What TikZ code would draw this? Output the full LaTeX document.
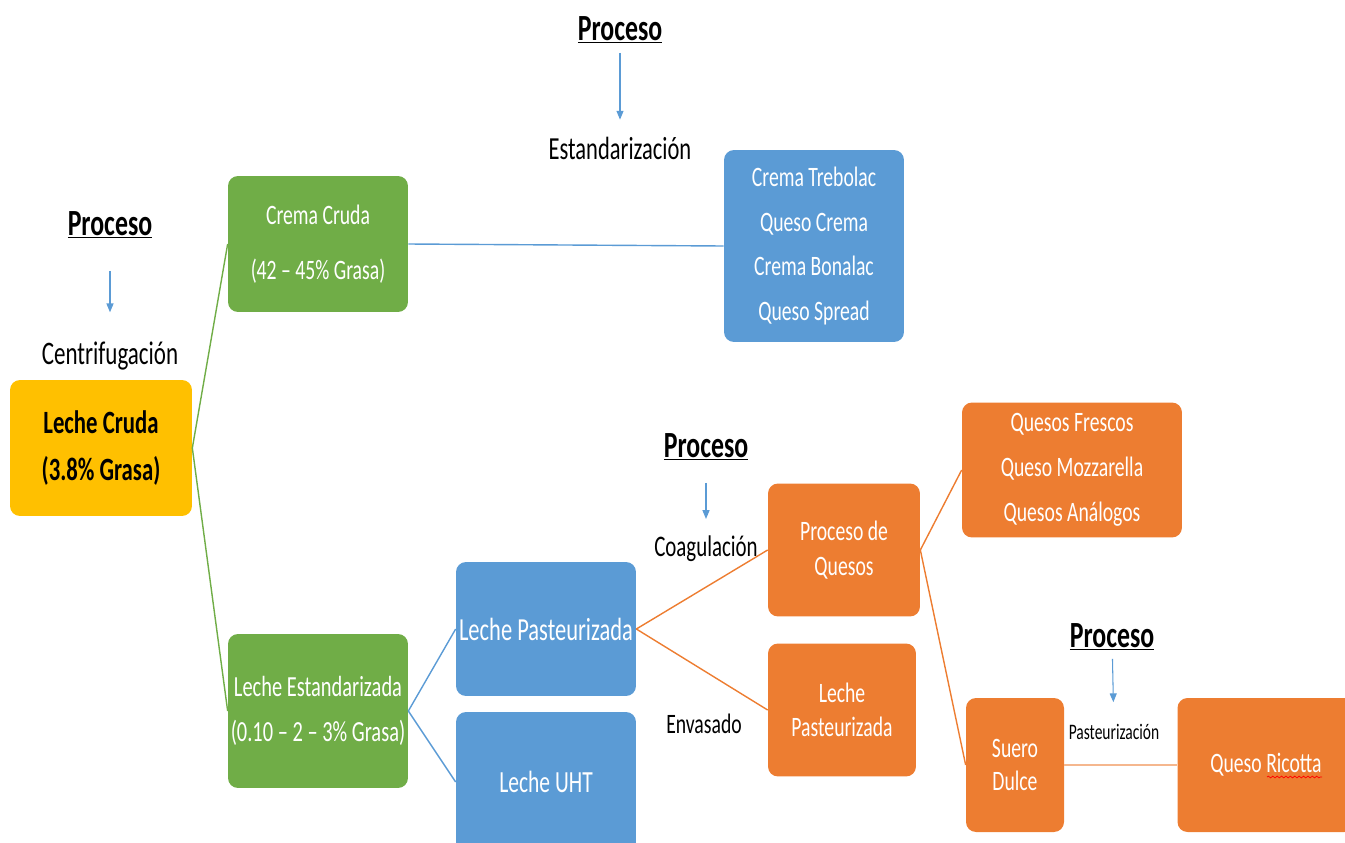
\documentclass[tikz,border=0pt]{standalone}
\usepackage{fontspec}
\setmainfont{Carlito}[FakeStretch=0.7]
\usepackage{tikz}
\usetikzlibrary{arrows.meta,decorations.pathmorphing}
\definecolor{verde}{HTML}{70AD47}
\definecolor{amarillo}{HTML}{FFC000}
\definecolor{azul}{HTML}{5B9BD5}
\definecolor{naranja}{HTML}{ED7D31}
\begin{document}
\begin{tikzpicture}[x=0.02cm, y=-0.02cm,
		caja/.style 2 args={rectangle, rounded corners=0.2cm, text=white, align=center, inner sep=0pt, minimum width=#1, minimum height=#2},
		etiqueta/.style={align=center, inner sep=1pt},
		linea/.style={line width=0.8pt},
		flecha/.style={draw=azul, line width=0.6pt, -{Triangle[width=4pt,length=5pt]}}]
				\useasboundingbox (0,0) rectangle (1345,842);
				
				\node[caja={3.64cm}{2.72cm}, fill=amarillo, text=black, font=\fontsize{18.5}{26.5}\selectfont\bfseries] (lc) at (101,448){Leche Cruda\\(3.8\% Grasa)};
				\node[caja={3.6cm}{2.72cm}, fill=verde, font=\fontsize{16}{31}\selectfont] (cc) at (318,244){Crema Cruda\\(42 -- 45\% Grasa)};
				\node[caja={3.6cm}{3.08cm}, fill=verde, font=\fontsize{16.6}{25.5}\selectfont] (le) at (318,711){Leche Estandarizada\\(0.10 -- 2 -- 3\% Grasa)};
				\node[caja={3.6cm}{3.84cm}, fill=azul, font=\fontsize{16}{25.5}\selectfont] (cremas) at (814,246){Crema Trebolac\\Queso Crema\\Crema Bonalac\\Queso Spread};
				\node[caja={3.6cm}{2.68cm}, fill=azul, font=\fontsize{18.3}{20}\selectfont] (lp) at (546,629){Leche Pasteurizada};
				\node[caja={3.6cm}{2.8cm}, fill=azul, font=\fontsize{17.5}{20}\selectfont] (uht) at (546,782){Leche UHT};
				\node[caja={3.04cm}{2.66cm}, fill=naranja, font=\fontsize{16}{19.5}\selectfont] (pq) at (844,550){Proceso de\\Quesos};
				\node[caja={2.96cm}{2.66cm}, fill=naranja, font=\fontsize{16}{19.5}\selectfont] (lp2) at (842,710){Leche\\Pasteurizada};
				\node[caja={4.4cm}{2.7cm}, fill=naranja, font=\fontsize{16}{25.5}\selectfont] (qs) at (1072,470){Quesos Frescos\\Queso Mozzarella\\Quesos Análogos};
				\node[caja={1.96cm}{2.68cm}, fill=naranja, font=\fontsize{16}{19}\selectfont] (sd) at (1015,765){Suero\\Dulce};
				\node[caja={3.54cm}{2.68cm}, fill=naranja, font=\fontsize{16}{19}\selectfont] (qr) at (1266,765){Queso Ricotta};
				\draw[red, line width=0.4pt, decorate, decoration={snake, amplitude=0.5pt, segment length=2.5pt}] (1267,777) -- (1322,777);
				
				\node[etiqueta, font=\fontsize{21}{22}\selectfont\bfseries] (p1) at (110,225){\underline{Proceso}};
				\node[etiqueta, font=\fontsize{18.7}{20}\selectfont] (cen) at (110,356){Centrifugación};
				\node[etiqueta, font=\fontsize{21}{22}\selectfont\bfseries] (p2) at (620,30){\underline{Proceso}};
				\node[etiqueta, font=\fontsize{18.3}{20}\selectfont] (est) at (620,148){Estandarización};
				\node[etiqueta, font=\fontsize{21}{22}\selectfont\bfseries] (p3) at (706,447){\underline{Proceso}};
				\node[etiqueta, font=\fontsize{17}{18}\selectfont] (coa) at (706,549){Coagulación};
				\node[etiqueta, font=\fontsize{16}{18}\selectfont] (env) at (704,724){Envasado};
				\node[etiqueta, font=\fontsize{21}{22}\selectfont\bfseries] (p4) at (1112,637){\underline{Proceso}};
				\node[etiqueta, font=\fontsize{12.6}{14}\selectfont] (pas) at (1114,732){Pasteurización};
				
				\path (p1) edge[flecha, shorten <=0.6cm, shorten >=0.55cm] (cen);
				\path (p2) edge[flecha, shorten <=0.14cm, shorten >=0.3cm] (est);
				\path (p3) edge[flecha, shorten <=0.4cm, shorten >=0.3cm] (coa);
				\path (p4) edge[flecha, shorten <=0.12cm, shorten >=0.4cm] (pas);
				
				\path (lc.east) edge[linea, draw=verde] (cc.west);
				\path (lc.east) edge[linea, draw=verde] (le.west);
				\path (cc.east) edge[linea, draw=azul] (cremas.west);
				\path (le.east) edge[linea, draw=azul] (lp.west);
				\path (le.east) edge[linea, draw=azul] (uht.west);
				\path (lp.east) edge[linea, draw=naranja] (pq.west);
				\path (lp.east) edge[linea, draw=naranja] (lp2.west);
				\path (pq.east) edge[linea, draw=naranja] (qs.west);
				\path (pq.east) edge[linea, draw=naranja] (sd.west);
				\path (sd.east) edge[linea, draw=naranja!55] (qr.west);
				\end{tikzpicture}
\end{document}
